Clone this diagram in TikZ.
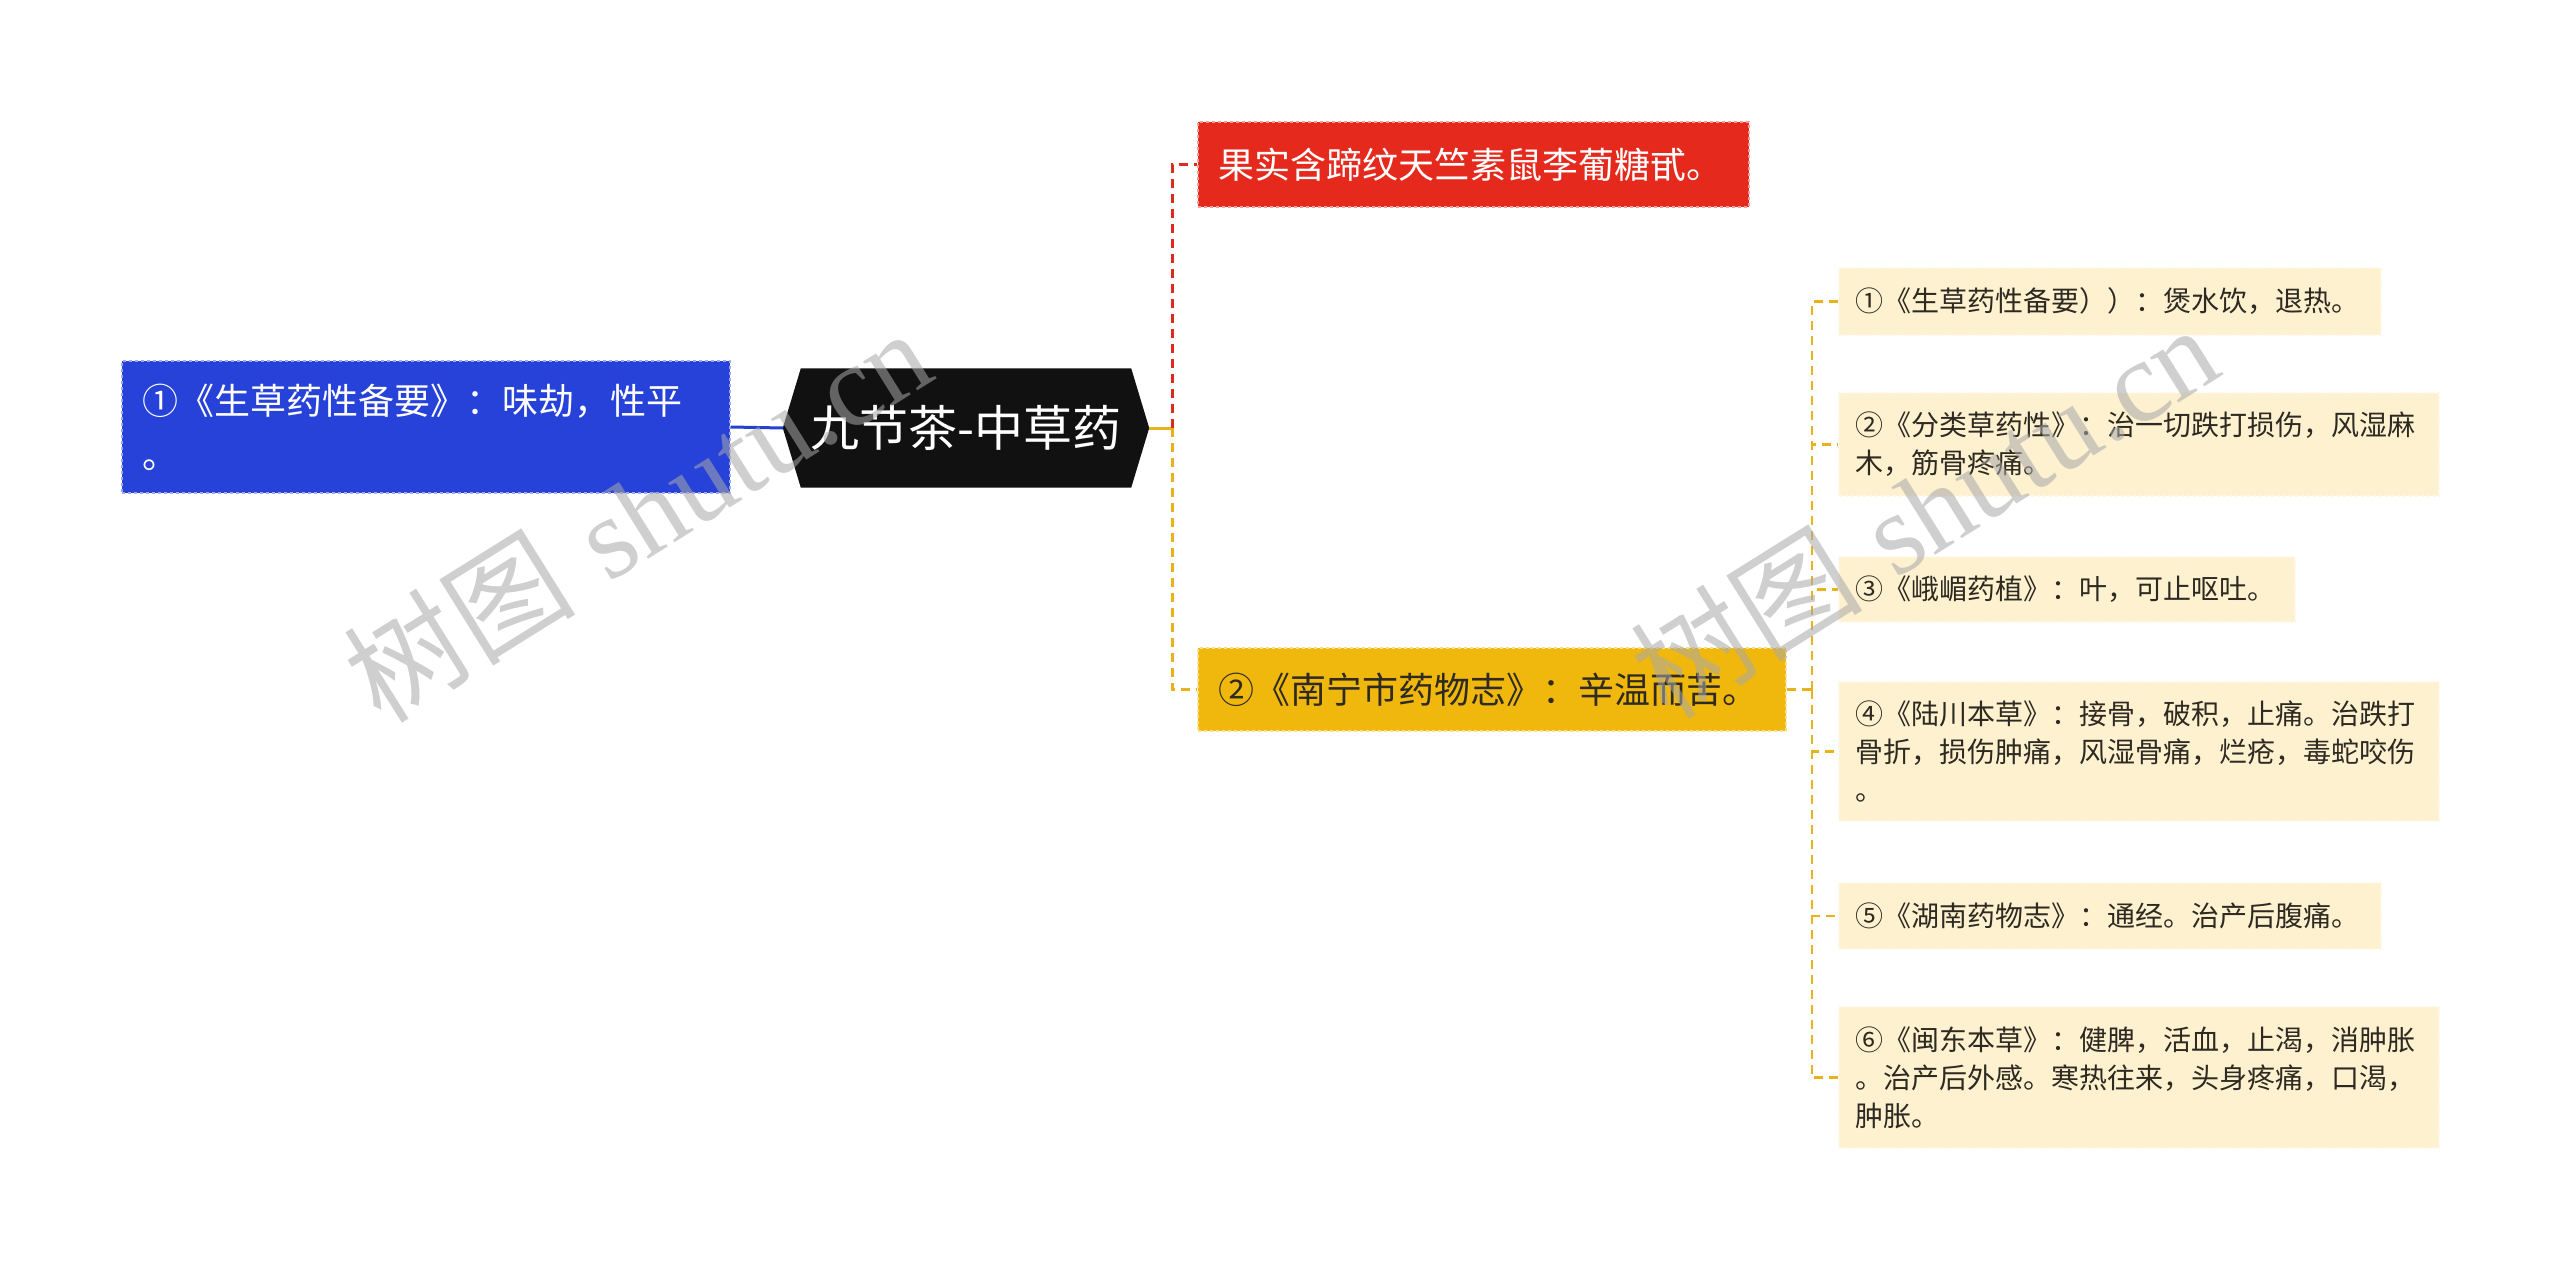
\documentclass[tikz,border=0pt]{standalone}
\usepackage{fontspec}
\newfontfamily\cjk{Noto Sans CJK SC}
\newfontfamily\wmserif{Liberation Serif}
\usetikzlibrary{backgrounds}
\definecolor{bluefill}{HTML}{2742D8}
\definecolor{redfill}{HTML}{E6291D}
\definecolor{yelfill}{HTML}{F0B80C}
\definecolor{leaffill}{HTML}{FDF1D0}
\definecolor{darkfill}{HTML}{111111}
\definecolor{txtdark}{HTML}{2E2A22}
\definecolor{bluelink}{HTML}{2541D0}
\definecolor{redlink}{HTML}{DD2A20}
\definecolor{yellink}{HTML}{E8B31A}
\definecolor{wmgray}{HTML}{A8A8A8}
\tikzset{
  mainbox/.style={inner xsep=20pt, inner ysep=0pt, align=left, dashed, line width=1.5pt},
  bluebox/.style={mainbox, fill=bluefill, draw=white!55!bluefill, text=white,
    font=\cjk\fontsize{36}{54}\selectfont},
  redbox/.style={mainbox, fill=redfill, draw=white!55!redfill, text=white,
    font=\cjk\fontsize{36}{44}\selectfont},
  yelbox/.style={mainbox, fill=yelfill, draw=white!55!yelfill, text=txtdark,
    font=\cjk\fontsize{36}{44}\selectfont},
  leafbox/.style={anchor=west, inner xsep=17pt, inner ysep=0pt, align=left,
    fill=leaffill, draw=white!45!leaffill, dashed, line width=1.5pt, text=txtdark,
    font=\cjk\fontsize{28}{38}\selectfont},
  centralbox/.style={inner sep=0pt, minimum width=330pt, minimum height=119pt,
    text=white, font=\cjk\fontsize{49}{56}\selectfont},
  link/.style={line width=3pt, dash pattern=on 9pt off 6pt},
  wm/.style={text=wmgray, opacity=0.55, rotate=32, font=\fontsize{116}{124}\selectfont}
}
\begin{document}
\begin{tikzpicture}[x=1pt,y=-1pt]
\useasboundingbox (0,0) rectangle (2560,1271);

% central node
\node[centralbox] (c) at (966,428) {九节茶-中草药};
\coordinate (cw) at ([xshift=-18pt]c.west);
\coordinate (ce) at ([xshift=18pt]c.east);
\begin{scope}[on background layer]
  \fill[darkfill] (c.north west) -- (c.north east) -- (ce) -- (c.south east)
     -- (c.south west) -- (cw) -- cycle;
\end{scope}

% left node
\node[bluebox, text width=568pt, minimum height=132pt] (b) at (426,427)
  {①《生草药性备要》：味劫，性平\\。};

% first level right
\node[redbox, text width=511pt, minimum height=85pt] (r) at (1473.5,164.5)
  {果实含蹄纹天竺素鼠李葡糖甙。};
\node[yelbox, text width=548pt, minimum height=83pt] (y) at (1492,689.5)
  {②《南宁市药物志》：辛温而苦。};

% leaves
\node[leafbox, text width=508pt, minimum height=67pt] (l1) at (1838,301.5)
  {①《生草药性备要））：煲水饮，退热。};
\node[leafbox, text width=566pt, minimum height=103pt] (l2) at (1838,444.5)
  {②《分类草药性》：治一切跌打损伤，风湿麻\\木，筋骨疼痛。};
\node[leafbox, text width=422pt, minimum height=65pt] (l3) at (1838,589.5)
  {③《峨嵋药植》：叶，可止呕吐。};
\node[leafbox, text width=566pt, minimum height=139pt] (l4) at (1838,751.5)
  {④《陆川本草》：接骨，破积，止痛。治跌打\\骨折，损伤肿痛，风湿骨痛，烂疮，毒蛇咬伤\\。};
\node[leafbox, text width=508pt, minimum height=66pt] (l5) at (1838,916)
  {⑤《湖南药物志》：通经。治产后腹痛。};
\node[leafbox, text width=566pt, minimum height=141pt] (l6) at (1838,1077.5)
  {⑥《闽东本草》：健脾，活血，止渴，消肿胀\\。治产后外感。寒热往来，头身疼痛，口渴，\\肿胀。};

% connectors
\coordinate (j) at (1172,428);
\draw[bluelink, line width=3pt] (b.east) -- (cw);
\draw[yellink, line width=3pt] (ce) -- (j);
\draw[redlink, link] (j) |- (r.west);
\draw[yellink, link] (j) |- (y.west);

\coordinate (j2) at (1812,689.5);
\draw[yellink, link] (y.east) -- (j2);
\foreach \n in {l1,l2,l3,l4,l5,l6}{
  \draw[yellink, link, line width=2.2pt] (j2) |- (\n.west);
}

% watermarks
\node[wm] (w1) at (637,514) {{\cjk 树图} {\wmserif shutu.cn}};
\node[wm] (w2) at (1924,510) {{\cjk 树图} {\wmserif shutu.cn}};
\end{tikzpicture}
\end{document}
